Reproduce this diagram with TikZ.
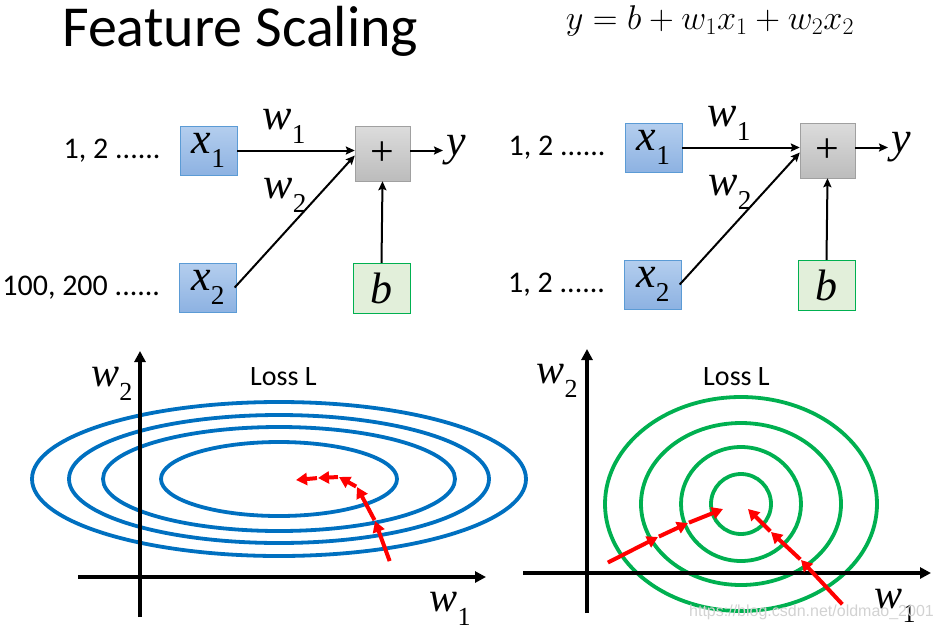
\documentclass[tikz,border=0pt]{standalone}
\usepackage{fontspec}
\setmainfont{Carlito}
\newfontfamily\varfont{Liberation Serif}
\newfontfamily\varit{Liberation Serif Italic}
\newfontfamily\wmfont{Liberation Sans}
\usetikzlibrary{positioning,arrows.meta}
\definecolor{inblue}{RGB}{91,155,213}
\definecolor{intop}{RGB}{180,206,238}
\definecolor{inbot}{RGB}{141,178,226}
\definecolor{sumtop}{RGB}{220,220,220}
\definecolor{sumbot}{RGB}{188,188,188}
\definecolor{sumline}{RGB}{160,160,160}
\definecolor{biasfill}{RGB}{226,239,218}
\definecolor{biasline}{RGB}{0,176,80}
\definecolor{ellblue}{RGB}{0,112,192}
\definecolor{circgreen}{RGB}{0,176,80}
\definecolor{stepred}{RGB}{255,0,0}
% italic variable with a small upright index
\newcommand{\ivar}[2]{{\varit #1}\raisebox{-0.32em}{\scalebox{0.62}{\varfont #2}}}
\tikzset{
  inbox/.style   = {draw=inblue, top color=intop, bottom color=inbot,
                    minimum width=57pt, minimum height=49pt, inner sep=0pt,
                    font=\fontsize{44}{44}\selectfont},
  sumbox/.style  = {draw=sumline, top color=sumtop, bottom color=sumbot,
                    minimum width=55pt, minimum height=55pt, inner sep=0pt,
                    font=\fontsize{42}{42}\selectfont\varfont},
  biasbox/.style = {draw=biasline, fill=biasfill,
                    minimum width=57pt, minimum height=50pt, inner sep=0pt,
                    font=\fontsize{44}{44}\selectfont\varit},
  varlbl/.style  = {inner sep=0pt, font=\fontsize{44}{44}\selectfont},
  axlbl/.style   = {inner sep=0pt, font=\fontsize{42}{42}\selectfont},
  inlbl/.style   = {inner sep=0pt, font=\fontsize{30}{30}\selectfont},
  wire/.style    = {-{Stealth[length=9pt,width=8pt,inset=1.5pt]}, line width=2pt},
  axis/.style    = {-{Triangle[length=11pt,width=11pt]}, line width=3.8pt},
  contour/.style = {draw=#1, line width=3.8pt},
  gdstep/.style  = {-{Triangle[length=11pt,width=12pt]}, stepred,
                    line width=4pt, shorten <=1pt},
}

\begin{document}
\begin{tikzpicture}[x=1pt,y=-1pt]
  \useasboundingbox (0,0) rectangle (940,630);
  % -- Title and model --------------------------------------------
  \node[anchor=base west, inner sep=0pt, font=\fontsize{58}{58}\selectfont]
      (title) at (62,46) {Feature Scaling};
  \node[anchor=base, inner sep=0pt, font=\fontsize{24}{24}\selectfont]
      (model) at (710,29) {\scalebox{1.38}{$y = b + w_1x_1 + w_2x_2$}};

  % -- Networks (left: raw inputs, right: scaled inputs) -----------
  \foreach \s/\dx/\dy/\inp in {L/0/0/{100, 200 ......}, R/445/-3/{1, 2 ......}}{
    \node[inbox] (x1\s) at ({208.5+\dx},{150.5+\dy}) {\ivar{x}{1}};
    \node[inbox] (x2\s) at ({208+\dx},{287.5+\dy}) {\ivar{x}{2}};
    \node[sumbox] (sum\s) at ({382.5+\dx},{153.5+\dy}) {+};
    \node[biasbox] (b\s) at ({381.5+\dx},{288+\dy}) {b};
    \node[varlbl, anchor=west] (y\s) at ({446+\dx},{150.5+\dy}) {\varit y};
    \node[inlbl, left=19pt of x1\s] (in1\s) {1, 2 ......};
    \node[inlbl, left=19pt of x2\s] (in2\s) {\inp};
    \node[varlbl] (w1\s) at ({284+\dx},{126+\dy}) {\ivar{w}{1}};
    \node[varlbl] (w2\s) at ({285+\dx},{195+\dy}) {\ivar{w}{2}};
    \draw[wire] (x1\s.east) -- (x1\s.east -| sum\s.west);
    \draw[wire] ([xshift=-2pt]x2\s.east) -- ([yshift=-2pt]sum\s.west);
    \draw[wire] (b\s.north) -- (sum\s.south);
    \draw[wire] (sum\s.east |- x1\s.east) -- ([xshift=-3pt]y\s.west |- x1\s.east);
  }

  % -- Loss surface, raw features -----------------------------------
  \foreach \rx/\ry in {118/37, 176/52, 210/64, 247/77}
    \draw[contour=ellblue] (279,479) ellipse [x radius=\rx, y radius=\ry];
  \coordinate (oxL) at (78,577);  \coordinate (exL) at (486,577);
  \coordinate (oyL) at (140,617); \coordinate (eyL) at (140,351);
  \draw[axis] (oxL) -- (exL);
  \draw[axis] (oyL) -- (eyL);
  \node[axlbl] (w2axL) at (112,384) {\ivar{w}{2}};
  \node[axlbl] (w1axL) at (450,609) {\ivar{w}{1}};
  \node[anchor=base, inner sep=0pt, font=\fontsize{28}{28}\selectfont]
      (lossL) at (283.5,385) {Loss L};
  \coordinate (l0) at (390,562);
  \coordinate (l1) at (375,521);
  \coordinate (l2) at (357,487);
  \coordinate (l3) at (339,477);
  \coordinate (l4) at (318,478);
  \coordinate (l5) at (296,480);
  \foreach \a/\b in {l0/l1, l1/l2, l2/l3, l3/l4, l4/l5}
    \draw[gdstep] (\a) -- (\b);

  % -- Loss surface, scaled features --------------------------------
  \foreach \rx/\ry in {30/30, 60/57, 100/81, 136/107}
    \draw[contour=circgreen] (741,504) ellipse [x radius=\rx, y radius=\ry];
  \coordinate (oxR) at (523,573); \coordinate (exR) at (931,573);
  \coordinate (oyR) at (587,613); \coordinate (eyR) at (587,349);
  \draw[axis] (oxR) -- (exR);
  \draw[axis] (oyR) -- (eyR);
  \node[axlbl] (w2axR) at (557,381) {\ivar{w}{2}};
  \node[axlbl] (w1axR) at (895,606) {\ivar{w}{1}};
  \node[anchor=base, inner sep=0pt, font=\fontsize{28}{28}\selectfont]
      (lossR) at (736.5,385) {Loss L};
  \coordinate (ra0) at (607,563);
  \coordinate (ra1) at (658,537);
  \coordinate (ra2) at (688,523);
  \coordinate (ra3) at (723,509);
  \coordinate (rb0) at (843,605);
  \coordinate (rb1) at (801,560);
  \coordinate (rb2) at (771,532);
  \coordinate (rb3) at (748,509);
  \foreach \a/\b in {ra0/ra1, ra1/ra2, ra2/ra3, rb0/rb1, rb1/rb2, rb2/rb3}
    \draw[gdstep] (\a) -- (\b);

  \node[anchor=west, inner sep=0pt, text=gray!35, font=\wmfont\fontsize{16}{16}\selectfont]
      (wmark) at (689,612) {https://blog.csdn.net/oldmao\_2001};
\end{tikzpicture}
\end{document}
